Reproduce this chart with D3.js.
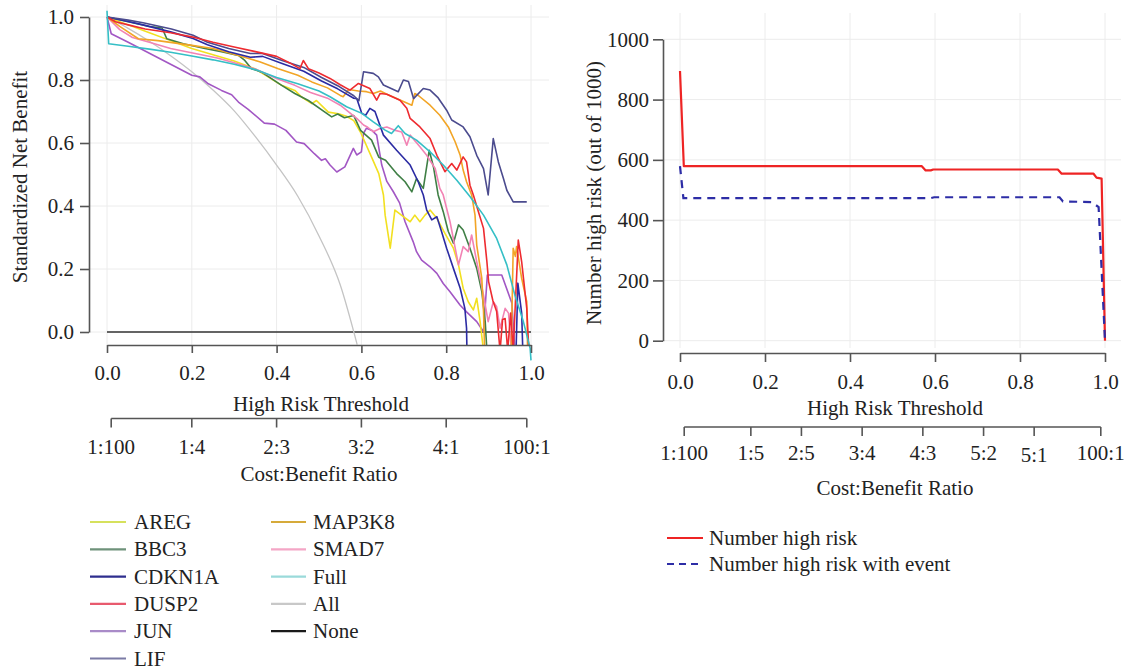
<!DOCTYPE html>
<html><head><meta charset="utf-8">
<script src="https://cdn.jsdelivr.net/npm/d3@7"></script>
<style>
html,body{margin:0;padding:0;background:#fff;}
svg text{font-family:"Liberation Serif","DejaVu Serif",serif;fill:#222;}
</style></head>
<body><svg id="c" width="1130" height="671"></svg>
<script>
// ---------- DATA (threshold, standardized net benefit) ----------
const AREG = [[0,1.0],[0.05,0.975],[0.1,0.95],[0.15,0.925],[0.2,0.90],[0.25,0.88],[0.3,0.86],[0.35,0.835],[0.38,0.81],[0.412,0.783],[0.443,0.767],[0.459,0.746],[0.483,0.725],[0.494,0.735],[0.522,0.698],[0.546,0.693],[0.565,0.685],[0.582,0.671],[0.598,0.634],[0.624,0.555],[0.641,0.503],[0.652,0.435],[0.656,0.371],[0.668,0.266],[0.679,0.387],[0.699,0.366],[0.715,0.35],[0.726,0.371],[0.738,0.35],[0.75,0.371],[0.762,0.387],[0.778,0.361],[0.797,0.313],[0.817,0.266],[0.829,0.213],[0.84,0.139],[0.852,0.096],[0.864,0.07],[0.872,0.107],[0.88,0.033],[0.888,-0.06]];
const BBC3 = [[0,1.0],[0.05,0.985],[0.1,0.97],[0.13,0.965],[0.141,0.931],[0.18,0.915],[0.231,0.9],[0.27,0.89],[0.31,0.878],[0.325,0.862],[0.341,0.836],[0.365,0.825],[0.412,0.783],[0.443,0.757],[0.475,0.735],[0.514,0.698],[0.53,0.683],[0.544,0.692],[0.56,0.68],[0.582,0.687],[0.598,0.64],[0.624,0.609],[0.641,0.555],[0.657,0.545],[0.683,0.503],[0.703,0.477],[0.719,0.445],[0.73,0.487],[0.746,0.456],[0.76,0.577],[0.77,0.524],[0.781,0.435],[0.793,0.382],[0.805,0.319],[0.817,0.282],[0.829,0.34],[0.84,0.324],[0.856,0.266],[0.872,0.202],[0.884,0.128],[0.892,0.033],[0.896,-0.06]];
const CDKN1A = [[0,1.0],[0.05,0.986],[0.085,0.975],[0.152,0.952],[0.203,0.932],[0.237,0.912],[0.287,0.89],[0.338,0.872],[0.367,0.875],[0.413,0.852],[0.464,0.828],[0.506,0.797],[0.544,0.772],[0.582,0.742],[0.589,0.741],[0.601,0.694],[0.61,0.688],[0.62,0.71],[0.632,0.70],[0.652,0.625],[0.683,0.577],[0.715,0.53],[0.734,0.477],[0.746,0.435],[0.754,0.387],[0.766,0.356],[0.778,0.366],[0.789,0.319],[0.801,0.266],[0.817,0.202],[0.833,0.139],[0.844,0.075],[0.848,0.012],[0.852,-0.3],[0.96,-0.3],[0.969,0.155],[0.978,0.06],[0.986,-0.3]];
const DUSP2 = [[0,1.0],[0.02,0.985],[0.05,0.975],[0.09,0.962],[0.15,0.95],[0.2,0.937],[0.25,0.92],[0.3,0.905],[0.35,0.89],[0.4,0.875],[0.43,0.855],[0.455,0.836],[0.463,0.862],[0.475,0.836],[0.5,0.822],[0.526,0.805],[0.55,0.785],[0.573,0.768],[0.593,0.789],[0.62,0.773],[0.636,0.736],[0.644,0.757],[0.66,0.755],[0.691,0.736],[0.707,0.71],[0.715,0.678],[0.738,0.651],[0.762,0.614],[0.778,0.561],[0.797,0.509],[0.813,0.535],[0.825,0.514],[0.84,0.556],[0.848,0.54],[0.856,0.466],[0.864,0.435],[0.876,0.382],[0.888,0.329],[0.896,0.223],[0.9,0.16],[0.91,0.10],[0.919,0.065],[0.927,-0.06],[0.933,0.04],[0.939,0.043],[0.945,-0.06],[0.952,0.06],[0.958,-0.06],[0.97,0.292],[0.978,0.223],[0.99,0.075],[0.995,-0.06]];
const JUN = [[0,1.0],[0.01,0.947],[0.05,0.92],[0.1,0.885],[0.15,0.85],[0.2,0.815],[0.219,0.81],[0.239,0.788],[0.27,0.767],[0.294,0.753],[0.31,0.73],[0.333,0.707],[0.371,0.663],[0.395,0.66],[0.422,0.64],[0.447,0.603],[0.465,0.598],[0.489,0.566],[0.506,0.545],[0.515,0.55],[0.526,0.530],[0.542,0.508],[0.561,0.524],[0.581,0.583],[0.589,0.562],[0.6,0.572],[0.605,0.631],[0.612,0.647],[0.625,0.64],[0.636,0.625],[0.648,0.53],[0.66,0.478],[0.675,0.446],[0.69,0.41],[0.703,0.35],[0.722,0.287],[0.73,0.255],[0.742,0.228],[0.762,0.207],[0.778,0.186],[0.793,0.154],[0.809,0.128],[0.833,0.085],[0.848,0.064],[0.872,0.033],[0.888,0.001],[0.897,0.181],[0.931,0.181],[0.955,0.091],[0.962,-0.06]];
const LIF = [[0,1.0],[0.05,0.99],[0.085,0.982],[0.152,0.962],[0.203,0.942],[0.237,0.92],[0.287,0.9],[0.338,0.884],[0.367,0.884],[0.413,0.862],[0.464,0.84],[0.506,0.808],[0.544,0.782],[0.582,0.75],[0.594,0.734],[0.605,0.826],[0.628,0.821],[0.64,0.81],[0.652,0.784],[0.687,0.763],[0.699,0.8],[0.711,0.795],[0.723,0.741],[0.746,0.773],[0.762,0.768],[0.78,0.745],[0.801,0.704],[0.813,0.673],[0.84,0.651],[0.856,0.62],[0.872,0.561],[0.888,0.519],[0.899,0.435],[0.911,0.614],[0.923,0.54],[0.935,0.487],[0.943,0.45],[0.958,0.413],[0.99,0.413]];
const MAP3K8 = [[0,1.0],[0.03,0.97],[0.074,0.931],[0.12,0.925],[0.2,0.91],[0.25,0.9],[0.31,0.878],[0.36,0.858],[0.404,0.836],[0.45,0.815],[0.483,0.794],[0.52,0.775],[0.55,0.751],[0.557,0.747],[0.57,0.77],[0.593,0.765],[0.612,0.763],[0.628,0.757],[0.645,0.765],[0.66,0.755],[0.683,0.741],[0.719,0.72],[0.726,0.757],[0.735,0.75],[0.762,0.72],[0.785,0.688],[0.805,0.651],[0.821,0.604],[0.833,0.561],[0.84,0.514],[0.848,0.477],[0.86,0.435],[0.868,0.371],[0.872,0.276],[0.884,0.17],[0.888,0.065],[0.896,-0.3],[0.95,-0.3],[0.958,0.266],[0.963,0.24],[0.966,0.271],[0.978,0.17],[0.99,0.096],[0.995,-0.3]];
const SMAD7 = [[0,1.0],[0.03,0.96],[0.06,0.935],[0.1,0.92],[0.15,0.9],[0.208,0.884],[0.26,0.87],[0.3,0.855],[0.35,0.835],[0.4,0.805],[0.443,0.783],[0.48,0.76],[0.522,0.741],[0.55,0.72],[0.589,0.678],[0.605,0.657],[0.615,0.65],[0.628,0.636],[0.644,0.646],[0.66,0.651],[0.68,0.64],[0.695,0.635],[0.707,0.593],[0.715,0.625],[0.738,0.588],[0.754,0.561],[0.774,0.519],[0.785,0.456],[0.793,0.435],[0.809,0.35],[0.829,0.213],[0.84,0.271],[0.852,0.255],[0.86,0.308],[0.872,0.223],[0.888,0.117],[0.899,0.033],[0.911,0.096],[0.919,0.08],[0.927,0.012],[0.939,0.075],[0.947,0.06],[0.954,-0.06]];
const FULL = [[0,1.02],[0.004,0.915],[0.05,0.907],[0.1,0.898],[0.15,0.888],[0.2,0.876],[0.25,0.864],[0.3,0.85],[0.35,0.833],[0.4,0.808],[0.45,0.788],[0.5,0.765],[0.526,0.747],[0.565,0.715],[0.601,0.694],[0.628,0.667],[0.656,0.641],[0.671,0.63],[0.687,0.655],[0.703,0.63],[0.73,0.609],[0.762,0.572],[0.793,0.53],[0.825,0.482],[0.856,0.43],[0.888,0.371],[0.919,0.297],[0.943,0.213],[0.962,0.117],[0.982,0.033],[0.998,-0.052],[1.0,-0.09]];
const ALL = [[0,1.0],[0.05,0.964],[0.1,0.923],[0.15,0.877],[0.2,0.826],[0.25,0.768],[0.3,0.702],[0.35,0.62],[0.4,0.53],[0.45,0.431],[0.5,0.305],[0.55,0.150],[0.59,-0.04]];
const NONE = [[0,0],[1,0]];

const seriesNames = ["AREG","BBC3","CDKN1A","DUSP2","JUN","LIF","MAP3K8","SMAD7","Full","All","None"];

// right panel: threshold, number out of 1000
const numHighRisk = [[0,895],[0.009,579],[0.569,579],[0.578,565],[0.59,565],[0.596,568],[0.889,568],[0.898,554],[0.973,554],[0.98,541],[0.992,538],[1.0,0]];
const numHighRiskEvent = [[0,579],[0.008,473],[0.59,473],[0.598,476],[0.893,476],[0.901,462],[0.969,460],[0.985,443],[1.0,0]];

// axes tick data
const thrTicks = [0,0.2,0.4,0.6,0.8,1.0];
const nbTicks = [0,0.2,0.4,0.6,0.8,1.0];
const countTicks = [0,200,400,600,800,1000];
const cbLeftLabels = ["1:100","1:4","2:3","3:2","4:1","100:1"];
const cbLeftPos = [0.0099,0.2,0.4,0.6,0.8,0.9901];
const cbRightLabels = ["1:100","1:5","2:5","3:4","4:3","5:2","5:1","100:1"];
const cbRightPos = [0.0099,0.1667,0.2857,0.4286,0.5714,0.7143,0.8333,0.9901];

// ---------- STYLE ----------
const colors = {AREG:"#f2e020",BBC3:"#3f7f45",CDKN1A:"#2b2ba3",DUSP2:"#ee2b30",JUN:"#a257c4",LIF:"#4b4b8e",MAP3K8:"#f2a526",SMAD7:"#f283b4",Full:"#35bfc6",All:"#c4c4c4",None:"#333333"};
const legendColors = {AREG:"#d6e15c",BBC3:"#6e927a",CDKN1A:"#2e2e8e",DUSP2:"#e85a6e",JUN:"#a98bc8",LIF:"#7b7ba5",MAP3K8:"#d6aa3a",SMAD7:"#f4a6c6",Full:"#9adada",All:"#c8c8c8",None:"#1a1a1a"};
const dataMap = {AREG,BBC3,CDKN1A,DUSP2,JUN,LIF,MAP3K8,SMAD7,Full:FULL,All:ALL,None:NONE};
const FS = 21;
const AX = "#555";

const svg = d3.select("#c");

// ================= LEFT PANEL =================
const xL = d3.scaleLinear().domain([0,1]).range([107,531]);
const yL = d3.scaleLinear().domain([0,1]).range([332,17]);

const gL = svg.append("g");
gL.selectAll(".vg").data(thrTicks).join("line")
  .attr("x1",d=>xL(d)).attr("x2",d=>xL(d)).attr("y1",5).attr("y2",345)
  .attr("stroke","#ececec").attr("stroke-width",1);
gL.selectAll(".hg").data(nbTicks).join("line")
  .attr("x1",89).attr("x2",549).attr("y1",d=>yL(d)).attr("y2",d=>yL(d))
  .attr("stroke","#ececec").attr("stroke-width",1);

svg.append("defs").append("clipPath").attr("id","clipL")
  .append("rect").attr("x",89).attr("y",0).attr("width",462).attr("height",346);

const lineL = d3.line().x(d=>xL(d[0])).y(d=>yL(d[1]));
const lineSmooth = d3.line().x(d=>xL(d[0])).y(d=>yL(d[1])).curve(d3.curveMonotoneX);
const drawOrder = ["None","All","JUN","AREG","BBC3","SMAD7","MAP3K8","CDKN1A","LIF","DUSP2","Full"];
drawOrder.forEach(n=>{
  svg.append("path").datum(dataMap[n]).attr("d", n==="All"?lineSmooth:lineL)
    .attr("fill","none").attr("stroke",colors[n])
    .attr("stroke-width", n==="All"?1.3:1.6)
    .attr("stroke-linejoin","round")
    .attr("clip-path", n==="Full"?null:"url(#clipL)");
});

const yAxL = svg.append("g").attr("transform","translate(89,0)")
  .call(d3.axisLeft(yL).tickValues(nbTicks).tickFormat(d3.format(".1f")).tickSize(9).tickPadding(6).tickSizeOuter(0));
styleAxis(yAxL);

const xAxL = svg.append("g").attr("transform","translate(0,345)")
  .call(d3.axisBottom(xL).tickValues(thrTicks).tickFormat(d3.format(".1f")).tickSize(8).tickPadding(12).tickSizeOuter(0));
styleAxis(xAxL);
svg.append("text").attr("x",321).attr("y",411).attr("text-anchor","middle").attr("font-size",FS).text("High Risk Threshold");

const cbL = d3.scaleOrdinal().domain(cbLeftLabels).range(cbLeftPos.map(xL));
const cbAxL = svg.append("g").attr("transform","translate(0,418.5)");
cbAxL.append("line").attr("x1",xL(cbLeftPos[0])).attr("x2",xL(cbLeftPos[cbLeftPos.length-1]))
  .attr("stroke",AX).attr("stroke-width",1.6);
cbAxL.selectAll(".t").data(cbLeftLabels).join("line")
  .attr("x1",d=>cbL(d)).attr("x2",d=>cbL(d)).attr("y1",0).attr("y2",9)
  .attr("stroke",AX).attr("stroke-width",1.6);
cbAxL.selectAll(".l").data(cbLeftLabels).join("text")
  .attr("x",d=>cbL(d)).attr("y",35).attr("text-anchor","middle").attr("font-size",FS).text(d=>d);
svg.append("text").attr("x",319).attr("y",481).attr("text-anchor","middle").attr("font-size",FS).text("Cost:Benefit Ratio");

svg.append("text").attr("transform","translate(27,177) rotate(-90)").attr("text-anchor","middle")
  .attr("font-size",FS).text("Standardized Net Benefit");

const legCols = [["AREG","BBC3","CDKN1A","DUSP2","JUN","LIF"],["MAP3K8","SMAD7","Full","All","None"]];
const legX = [[90,126,134],[271,306,313]];
legCols.forEach((col,ci)=>{
  col.forEach((n,ri)=>{
    const y = 522 + ri*27.3;
    svg.append("line").attr("x1",legX[ci][0]).attr("x2",legX[ci][1]).attr("y1",y).attr("y2",y)
      .attr("stroke",legendColors[n]).attr("stroke-width",2.2);
    svg.append("text").attr("x",legX[ci][2]).attr("y",y+7).attr("font-size",FS).text(n);
  });
});

// ================= RIGHT PANEL =================
const xR = d3.scaleLinear().domain([0,1]).range([680,1105]);
const yR = d3.scaleLinear().domain([0,1000]).range([340.7,39.3]);

svg.append("g").selectAll("line").data(thrTicks).join("line")
  .attr("x1",d=>xR(d)).attr("x2",d=>xR(d)).attr("y1",13).attr("y2",348)
  .attr("stroke","#ececec").attr("stroke-width",1);
svg.append("g").selectAll("line").data(countTicks).join("line")
  .attr("x1",663).attr("x2",1121).attr("y1",d=>yR(d)).attr("y2",d=>yR(d))
  .attr("stroke","#ececec").attr("stroke-width",1);

const lineR = d3.line().x(d=>xR(d[0])).y(d=>yR(d[1]));
svg.append("path").datum(numHighRisk).attr("d",lineR).attr("fill","none")
  .attr("stroke","#ee2424").attr("stroke-width",2.2).attr("stroke-linejoin","round");
svg.append("path").datum(numHighRiskEvent).attr("d",lineR).attr("fill","none")
  .attr("stroke","#2d2da6").attr("stroke-width",2.2).attr("stroke-dasharray","8,6");

const yAxR = svg.append("g").attr("transform","translate(663,0)")
  .call(d3.axisLeft(yR).tickValues(countTicks).tickFormat(d3.format("d")).tickSize(10).tickPadding(4).tickSizeOuter(0));
styleAxis(yAxR);

const xAxR = svg.append("g").attr("transform","translate(0,353)")
  .call(d3.axisBottom(xR).tickValues(thrTicks).tickFormat(d3.format(".1f")).tickSize(9).tickPadding(12).tickSizeOuter(0));
styleAxis(xAxR);
svg.append("text").attr("x",895).attr("y",415).attr("text-anchor","middle").attr("font-size",FS).text("High Risk Threshold");

const cbR = d3.scaleOrdinal().domain(cbRightLabels).range(cbRightPos.map(xR));
const cbAxR = svg.append("g").attr("transform","translate(0,427)");
cbAxR.append("line").attr("x1",xR(cbRightPos[0])).attr("x2",xR(cbRightPos[cbRightPos.length-1]))
  .attr("stroke",AX).attr("stroke-width",1.6);
cbAxR.selectAll(".t").data(cbRightLabels).join("line")
  .attr("x1",d=>cbR(d)).attr("x2",d=>cbR(d)).attr("y1",0).attr("y2",9)
  .attr("stroke",AX).attr("stroke-width",1.6);
cbAxR.selectAll(".l").data(cbRightLabels).join("text")
  .attr("x",d=>cbR(d)).attr("y",d=>d==="5:1"?35:33).attr("text-anchor","middle").attr("font-size",FS).text(d=>d);
svg.append("text").attr("x",895).attr("y",495).attr("text-anchor","middle").attr("font-size",FS).text("Cost:Benefit Ratio");

svg.append("text").attr("transform","translate(601,193) rotate(-90)").attr("text-anchor","middle")
  .attr("font-size",FS).text("Number high risk (out of 1000)");

svg.append("line").attr("x1",667).attr("x2",703).attr("y1",538).attr("y2",538).attr("stroke","#ee2424").attr("stroke-width",2.2);
svg.append("text").attr("x",709).attr("y",545).attr("font-size",FS).text("Number high risk");
svg.append("line").attr("x1",667).attr("x2",703).attr("y1",564).attr("y2",564).attr("stroke","#2d2da6").attr("stroke-width",2).attr("stroke-dasharray","7,5");
svg.append("text").attr("x",709).attr("y",571).attr("font-size",FS).text("Number high risk with event");

function styleAxis(g){
  g.select(".domain").attr("stroke",AX).attr("stroke-width",1.6);
  g.selectAll(".tick line").attr("stroke",AX).attr("stroke-width",1.6);
  g.selectAll(".tick text").attr("font-size",FS).attr("font-family","Liberation Serif, DejaVu Serif, serif").attr("fill","#222");
}
</script></body></html>
